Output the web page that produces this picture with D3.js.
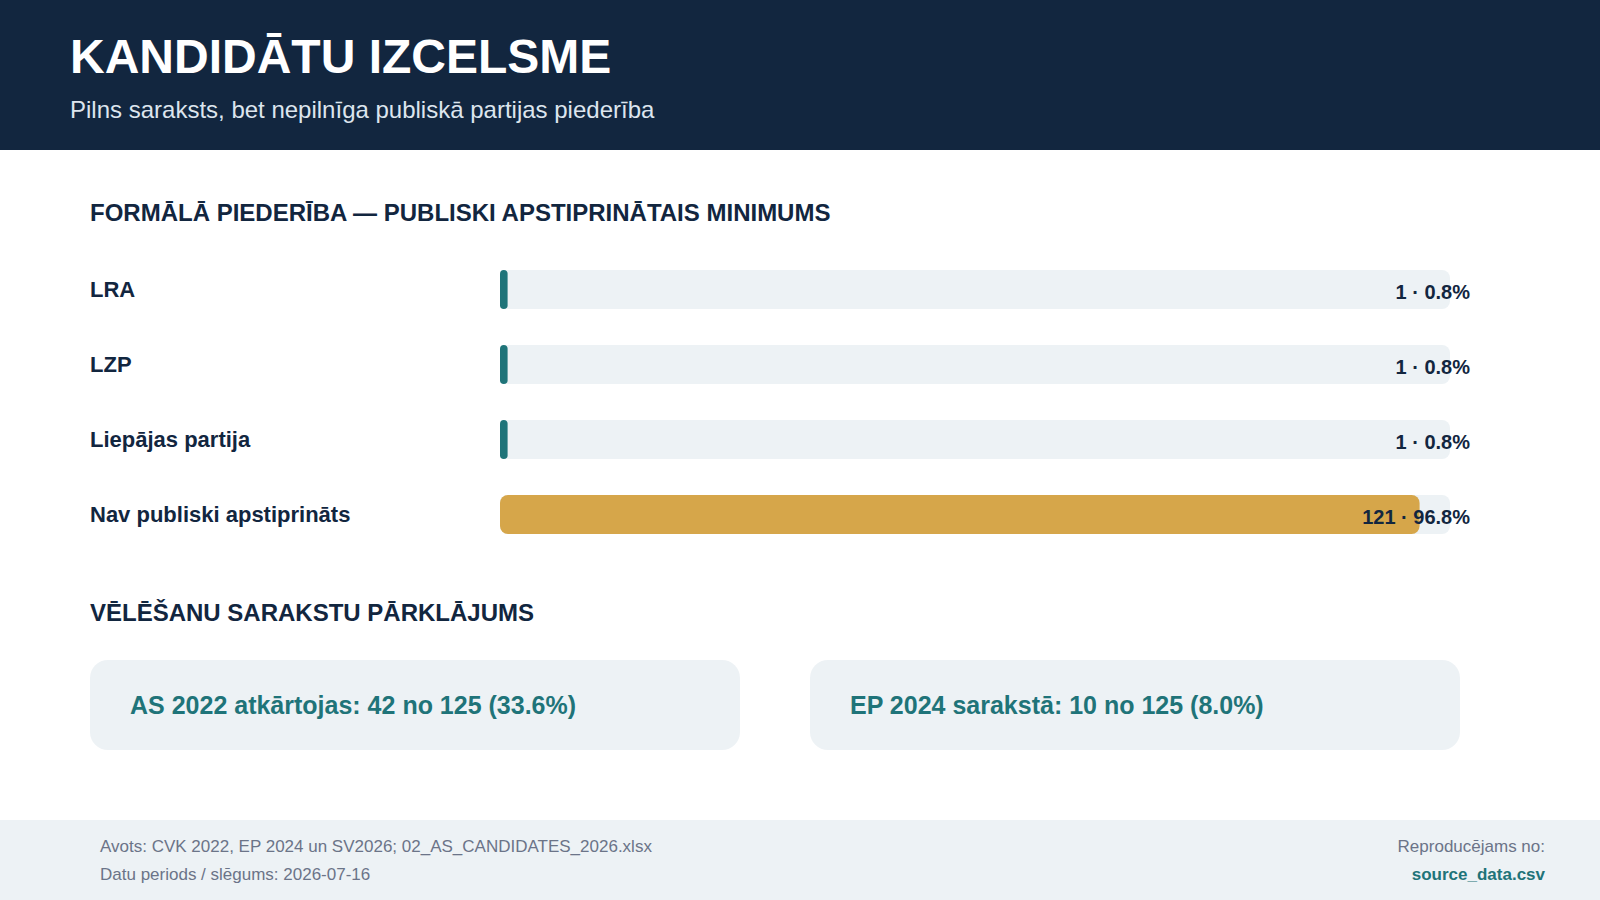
<!DOCTYPE html>
<html lang="lv">
<head>
<meta charset="utf-8">
<script src="https://cdn.jsdelivr.net/npm/d3@7"></script>
<style>
  html, body { margin: 0; padding: 0; background: #ffffff; }
  svg { display: block; font-family: "Liberation Sans", Arial, Helvetica, sans-serif; }
</style>
</head>
<body>
<svg id="chart" width="1600" height="900"></svg>
<script>
// dati
const partijas = ["LRA", "LZP", "Liepājas partija", "Nav publiski apstiprināts"];
const skaits = [1, 1, 1, 121];
const kopa = 125;
const parklajumsNosaukumi = ["AS 2022 atkārtojas", "EP 2024 sarakstā"];
const parklajumsSkaits = [42, 10];

const virsraksts = "KANDIDĀTU IZCELSME";
const apaksvirsraksts = "Pilns saraksts, bet nepilnīga publiskā partijas piederība";
const sadala1 = "FORMĀLĀ PIEDERĪBA — PUBLISKI APSTIPRINĀTAIS MINIMUMS";
const sadala2 = "VĒLĒŠANU SARAKSTU PĀRKLĀJUMS";
const avots = "Avots: CVK 2022, EP 2024 un SV2026; 02_AS_CANDIDATES_2026.xlsx";
const periods = "Datu periods / slēgums: 2026-07-16";

const navy = "#12263f", teal = "#1f7479", gold = "#d6a64a", light = "#edf2f5";

const svg = d3.select("#chart");

// galvene
svg.append("rect").attr("x", 0).attr("y", 0).attr("width", 1600).attr("height", 150).attr("fill", navy);
svg.append("text").attr("x", 70).attr("y", 73)
  .attr("fill", "#ffffff").attr("font-size", 48).attr("font-weight", 700)
  .text(virsraksts);
svg.append("text").attr("x", 70).attr("y", 118)
  .attr("fill", "#dde5ee").attr("font-size", 24)
  .text(apaksvirsraksts);

// 1. sadaļa
svg.append("text").attr("x", 90).attr("y", 221)
  .attr("fill", navy).attr("font-size", 24).attr("font-weight", 700)
  .text(sadala1);

const x = d3.scaleLinear().domain([0, 1]).range([500, 1450]);
const y = d3.scaleBand().domain(partijas).range([270, 534]).paddingInner(0.48).paddingOuter(0);

const rows = svg.append("g").selectAll("g")
  .data(partijas.map((p, i) => ({ name: p, n: skaits[i], share: skaits[i] / kopa, last: i === partijas.length - 1 })))
  .enter().append("g");

rows.append("text")
  .attr("x", 90)
  .attr("y", d => y(d.name) + y.bandwidth() / 2)
  .attr("dy", "0.35em")
  .attr("fill", navy).attr("font-size", 22).attr("font-weight", 700)
  .text(d => d.name);

rows.append("rect")
  .attr("x", x(0)).attr("y", d => y(d.name))
  .attr("width", x(1) - x(0)).attr("height", y.bandwidth())
  .attr("rx", 8).attr("fill", light);

rows.append("rect")
  .attr("x", x(0)).attr("y", d => y(d.name))
  .attr("width", d => x(d.share) - x(0)).attr("height", y.bandwidth())
  .attr("rx", d => Math.min(8, (x(d.share) - x(0)) / 2))
  .attr("fill", d => d.last ? gold : teal);

rows.append("text")
  .attr("x", x(1) + 20)
  .attr("y", d => y(d.name) + y.bandwidth() / 2 + 2)
  .attr("dy", "0.35em")
  .attr("text-anchor", "end")
  .attr("fill", navy).attr("font-size", 20).attr("font-weight", 700)
  .text(d => `${d.n} · ${(d.share * 100).toFixed(1)}%`);

// 2. sadaļa
svg.append("text").attr("x", 90).attr("y", 621)
  .attr("fill", navy).attr("font-size", 24).attr("font-weight", 700)
  .text(sadala2);

const cx = d3.scaleBand().domain(parklajumsNosaukumi).range([90, 1460]).paddingInner(70 / 720).paddingOuter(0);

const cards = svg.append("g").selectAll("g")
  .data(parklajumsNosaukumi.map((n, i) => ({ name: n, n: parklajumsSkaits[i] })))
  .enter().append("g");

cards.append("rect")
  .attr("x", d => cx(d.name)).attr("y", 660)
  .attr("width", cx.bandwidth()).attr("height", 90)
  .attr("rx", 18).attr("fill", light);

cards.append("text")
  .attr("x", d => cx(d.name) + 40).attr("y", 705)
  .attr("dy", "0.35em")
  .attr("fill", teal).attr("font-size", 25).attr("font-weight", 700)
  .text(d => `${d.name}: ${d.n} no ${kopa} (${(d.n / kopa * 100).toFixed(1)}%)`);

// kājene
svg.append("rect").attr("x", 0).attr("y", 820).attr("width", 1600).attr("height", 80).attr("fill", light);
svg.append("text").attr("x", 100).attr("y", 852)
  .attr("fill", "#6b7488").attr("font-size", 17).text(avots);
svg.append("text").attr("x", 100).attr("y", 880)
  .attr("fill", "#6b7488").attr("font-size", 17).text(periods);
svg.append("text").attr("x", 1545).attr("y", 852).attr("text-anchor", "end")
  .attr("fill", "#6b7488").attr("font-size", 17).text("Reproducējams no:");
svg.append("text").attr("x", 1545).attr("y", 880).attr("text-anchor", "end")
  .attr("fill", teal).attr("font-size", 17).attr("font-weight", 700).text("source_data.csv");
</script>
</body>
</html>
